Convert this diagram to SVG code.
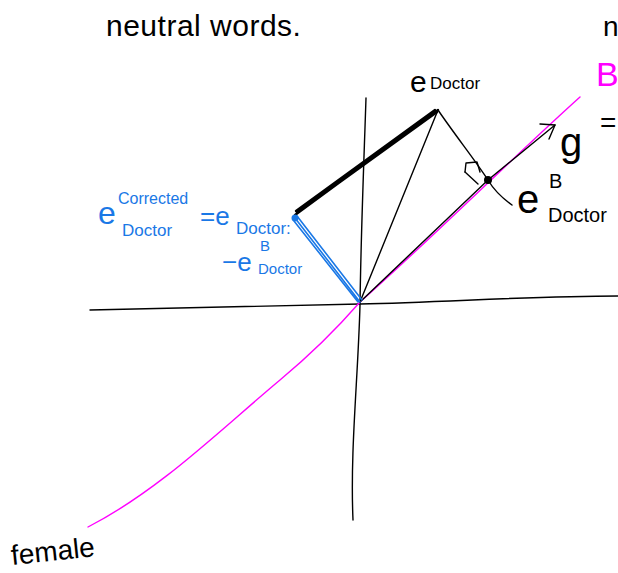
<svg xmlns="http://www.w3.org/2000/svg" width="618" height="573" viewBox="0 0 618 573">
<style>
.k{fill:none;stroke:#000;stroke-width:1.4;stroke-linecap:round;stroke-linejoin:round}
.kk{fill:none;stroke:#000;stroke-width:2.4;stroke-linecap:round}
.m{fill:none;stroke:#f0f;stroke-width:1.4;stroke-linecap:round}
.b{fill:none;stroke:#1a78e6;stroke-width:1.6;stroke-linecap:round}
.t{font-family:"Liberation Sans",Arial,sans-serif}
.tk{fill:#000}
.tb{fill:#1a78e6}
</style>
<g id="title"><text class="t tk" x="106" y="36" font-size="30" letter-spacing="0.5">neutral words.</text></g>
<g id="right-edge">
<text class="t tk" x="603" y="36" font-size="28">n</text>
<text class="t" x="596" y="86" font-size="34" fill="#f0f">B</text>
<text class="t tk" x="600" y="132" font-size="28">=</text>
</g>
<g id="axes">
<path class="k" d="M366,98 C364,160 361,230 360,305 C358,380 350,450 353,520"/>
<path class="k" d="M90,310 C180,308 270,306 360,304 C450,302 530,296 618,296"/>
</g>
<g id="connectors">
<path class="m" d="M88,527 C160,490 220,430 280,380 C310,355 340,325 360,302 C430,240 510,160 580,97"/>
<path class="k" d="M360,302 L438,110"/>
<path class="k" d="M438,110 C455,135 475,160 488,180 C495,192 505,200 512,205"/>
<path class="k" d="M360,302 L488,180 L555,125"/>
<path class="k" d="M540,124 L555,125 L549,139"/>
<path class="k" d="M465,172 L466,163 L477,162 L480,172"/>
<path class="k" d="M465,172 L478,184"/>
<circle cx="488" cy="180" r="4" fill="#000"/>
<path class="kk" d="M438,110 L295,215 M437,112 L297,213 M435,110 L296,211"/>
<path class="b" d="M360,302 L295,218 M358,302 L294,221 M362,300 L297,216"/>
<circle cx="295" cy="218" r="3.5" fill="#1a78e6"/>
</g>
<g id="e-doctor-label">
<text class="t tk" x="410" y="92" font-size="30">e</text>
<text class="t tk" x="430" y="89" font-size="17">Doctor</text>
</g>
<g id="e-doctor-b-label">
<text class="t tk" x="517" y="213" font-size="40">e</text>
<text class="t tk" x="549" y="188" font-size="20">B</text>
<text class="t tk" x="548" y="222" font-size="20">Doctor</text>
</g>
<g id="g-label"><text class="t tk" x="560" y="156" font-size="40">g</text></g>
<g id="corrected-label">
<text class="t tb" x="98" y="224" font-size="32">e</text>
<text class="t tb" x="118" y="204" font-size="16">Corrected</text>
<text class="t tb" x="122" y="236" font-size="17">Doctor</text>
<text class="t tb" x="200" y="225" font-size="26">=e</text>
<text class="t tb" x="236" y="234" font-size="17">Doctor:</text>
<text class="t tb" x="260" y="251" font-size="15">B</text>
<text class="t tb" x="222" y="271" font-size="26">−e</text>
<text class="t tb" x="258" y="274" font-size="15">Doctor</text>
</g>
<g id="female-label"><text class="t tk" x="12" y="565" font-size="28" transform="rotate(-6 12 565)">female</text></g>
</svg>
